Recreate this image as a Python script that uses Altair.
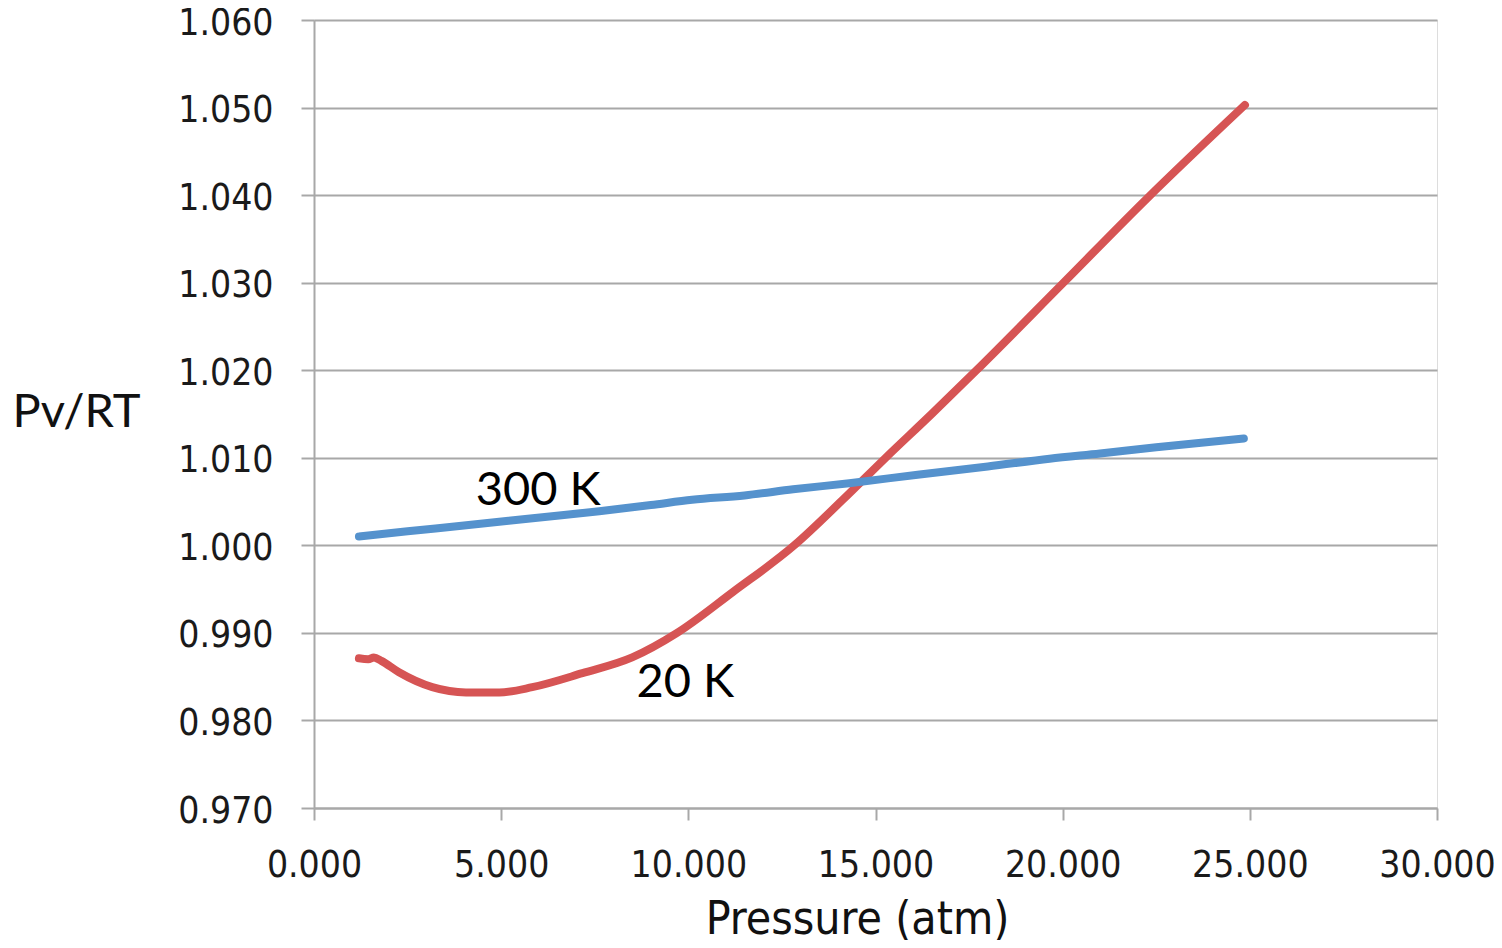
import altair as alt
import pandas as pd

# 20 K series (red)
p20 = [1.20, 1.45, 1.60, 1.80, 2.27, 3.16, 4.06, 4.95, 5.83, 7.17, 8.50, 9.70,
       11.20, 12.83, 14.10, 15.27, 16.50, 17.70, 20.00, 22.25, 24.87]
z20 = [0.9871, 0.9870, 0.9872, 0.9868, 0.9855, 0.9838, 0.9832, 0.9832, 0.9838,
       0.9854, 0.9872, 0.9900, 0.9947, 1.0000, 1.0051, 1.0100, 1.0150, 1.0200,
       1.0299, 1.0396, 1.0503]

# 300 K series (blue)
p300 = [1.20, 2.50, 3.88, 5.20, 6.55, 7.62, 9.00, 10.10, 11.50, 12.80, 14.30,
        16.18, 18.00, 19.65, 21.00, 22.50, 24.84]
z300 = [1.0010, 1.0016, 1.0022, 1.0028, 1.0034, 1.0039, 1.0046, 1.0052, 1.0057,
        1.0064, 1.0071, 1.0081, 1.0090, 1.0099, 1.0105, 1.0112, 1.0122]

series_names = ["20 K", "300 K"]
series_colors = ["#D65454", "#5592CD"]

x_ticks = [0, 5, 10, 15, 20, 25, 30]
y_ticks = [0.970, 0.980, 0.990, 1.000, 1.010, 1.020, 1.030, 1.040, 1.050, 1.060]

label_text = ["300 K", "20 K"]
label_x = [5.99, 9.92]
label_y = [1.0046, 0.98268]

df = pd.concat([
    pd.DataFrame({"P": p20, "Z": z20, "series": "20 K", "order": range(len(p20))}),
    pd.DataFrame({"P": p300, "Z": z300, "series": "300 K", "order": range(len(p300))}),
])
labels = pd.DataFrame({"text": label_text, "P": label_x, "Z": label_y})

GRID = "#A8A8A8"
FONT_AX = "DejaVu Sans Condensed"

xscale = alt.Scale(domain=[0, 30], nice=False, zero=False)
yscale = alt.Scale(domain=[0.970, 1.060], nice=False, zero=False)

xaxis = alt.Axis(
    values=x_ticks, format=".3f", grid=False,
    title="Pressure (atm)", titleFont=FONT_AX, titleFontSize=46, titleFontWeight="normal",
    titleColor="#111111", titleX=543, titleY=125,
    titleAlign="center", titleBaseline="alphabetic",
    labelFont=FONT_AX, labelFontSize=37, labelColor="#1a1a1a", labelPadding=27,
    tickSize=12, tickColor=GRID, tickWidth=2,
    domainColor=GRID, domainWidth=2, labelFlush=False, labelOverlap=False,
)
yaxis = alt.Axis(
    values=y_ticks, format=".3f", grid=True, gridColor=GRID, gridWidth=2,
    title="Pv/RT", titleFont="Lato", titleFontSize=47, titleFontWeight="normal",
    titleColor="#111111", titleAngle=0, titleX=-302, titleY=392,
    titleAlign="left", titleBaseline="middle",
    labelFont=FONT_AX, labelFontSize=37, labelColor="#1a1a1a", labelPadding=28,
    labelOffset=3,
    tickSize=13, tickColor=GRID, tickWidth=2,
    domainColor=GRID, domainWidth=2, labelFlush=False, labelOverlap=False,
)

lines = alt.Chart(df).mark_line(strokeWidth=8, strokeCap="round", strokeJoin="round",
                                interpolate="monotone").encode(
    x=alt.X("P:Q", scale=xscale, axis=xaxis),
    y=alt.Y("Z:Q", scale=yscale, axis=yaxis),
    color=alt.Color("series:N", scale=alt.Scale(domain=series_names, range=series_colors),
                    legend=None),
    detail="series:N",
    order="order:Q",
)

texts = alt.Chart(labels).mark_text(font="Lato", fontSize=47, color="#000000",
                                    align="center", baseline="alphabetic").encode(
    x=alt.X("P:Q", scale=xscale),
    y=alt.Y("Z:Q", scale=yscale),
    text="text:N",
)

chart = alt.layer(lines, texts).properties(
    width=1123, height=788,
    padding={"left": 306, "top": 12, "right": 57, "bottom": 132},
    autosize=alt.AutoSizeParams(type="none"),
).configure_view(stroke="transparent", strokeWidth=0).configure(background="white")

chart.save("out.html", embed_options={"renderer": "svg", "actions": False})
